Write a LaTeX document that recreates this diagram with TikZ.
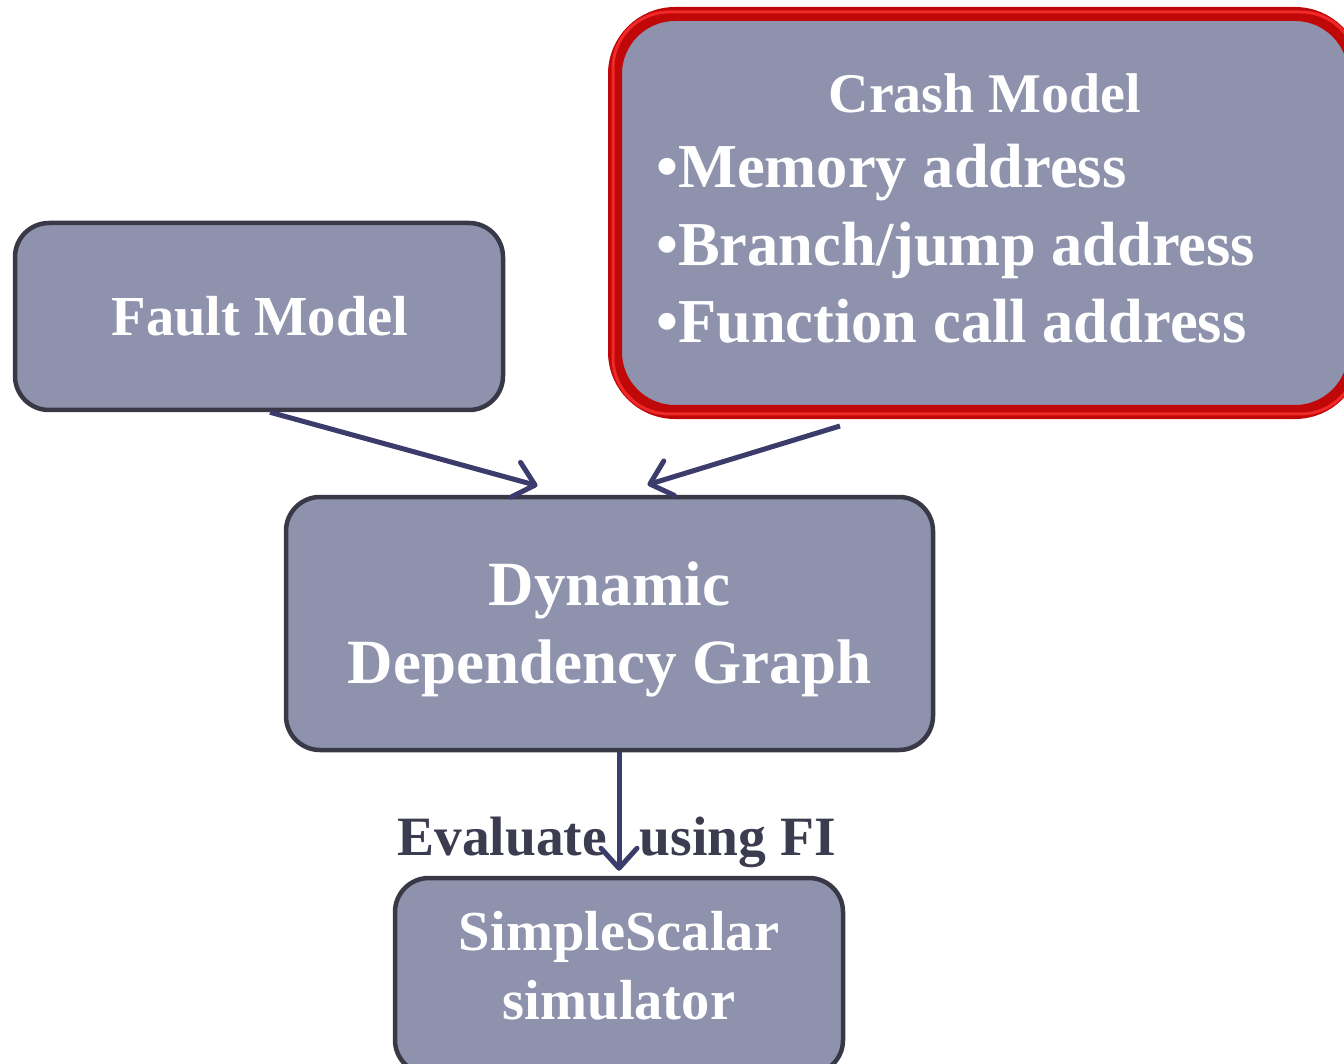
\documentclass[tikz,border=0pt]{standalone}
\usepackage{fontspec}
\setmainfont{Liberation Serif}
\usetikzlibrary{arrows.meta,calc}
\definecolor{boxfill}{HTML}{8E92AD}
\definecolor{boxedge}{HTML}{383846}
\definecolor{redge}{HTML}{C00808}
\definecolor{redlight}{HTML}{F02828}
\definecolor{arrowc}{HTML}{3B3B6C}
\definecolor{labelc}{HTML}{3C3C50}
\tikzset{
  box/.style={draw=boxedge, line width=4.5pt, fill=boxfill, rounded corners=34pt, inner sep=0pt},
  redbox/.style={draw=redge, line width=14pt, fill=boxfill, rounded corners=60pt, inner sep=0pt},
  boxtext/.style={text=white, font=\bfseries\fontsize{58}{78}\selectfont, align=center},
  bullet/.style={text=white, font=\bfseries\fontsize{62.5}{70}\selectfont, anchor=base west, inner sep=0pt},
  flow/.style={draw=arrowc, line width=5pt, -{Straight Barb[length=20pt,width=36pt,round]}},
}
\begin{document}
\begin{tikzpicture}[x=1pt,y=1pt]
\clip (0,0) rectangle (1344,-1064);
\fill[white] (0,0) rectangle (1344,-1064);
% boxes
\node[box, minimum width=488pt, minimum height=187pt] (fault) at (259,-316.5) {};
\node[boxtext, font=\bfseries\fontsize{56.5}{70}\selectfont] (faulttxt) at (260,-316) {Fault Model};
\node[redbox, minimum width=740pt, minimum height=398pt] (crash) at (985,-213) {};
\draw[redlight, line width=3pt, rounded corners=56pt] ($(crash.south west)+(5,5)$) rectangle ($(crash.north east)+(-5,-5)$);
\node[text=white, font=\bfseries\fontsize{56}{70}\selectfont, anchor=base] (crashtitle) at (985,-113) {Crash Model};
\node[bullet] (b1) at (656,-188) {•Memory address};
\node[bullet] (b2) at (656,-266) {•Branch/jump address};
\node[bullet] (b3) at (656,-343) {•Function call address};
\node[box, minimum width=647pt, minimum height=253pt] (ddg) at (609.5,-623.5) {};
\node[boxtext, font=\bfseries\fontsize{63}{78}\selectfont] (ddgtxt) at (609.5,-629) {Dynamic\\Dependency Graph};
\node[box, minimum width=448pt, minimum height=196pt] (sim) at (619,-976) {};
\node[boxtext, font=\bfseries\fontsize{56.5}{69}\selectfont] (simtxt) at (619,-966) {SimpleScalar\\simulator};
% label
\node[text=labelc, font=\bfseries\fontsize{55.5}{60}\selectfont, anchor=base] (evaltxt) at (616.5,-855) {Evaluate\hspace{33pt}using FI};
% connectors
\draw[flow] ([xshift=11pt]fault.south) -- ([xshift=-72pt,yshift=9pt]ddg.north);
\draw[flow] ([xshift=-145pt,yshift=-7pt]crash.south) -- ([xshift=38pt,yshift=10pt]ddg.north);
\draw[flow] (sim.north |- ddg.south) -- ([yshift=5pt]sim.north);
\end{tikzpicture}
\end{document}
